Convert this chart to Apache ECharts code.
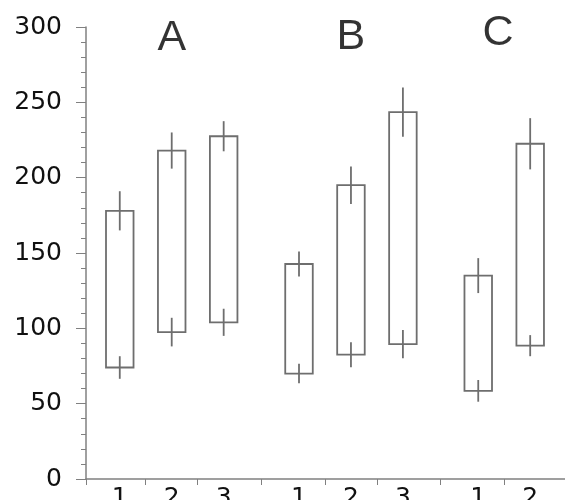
<!DOCTYPE html>
<html>
<head>
<meta charset="utf-8">
<script src="https://cdn.jsdelivr.net/npm/echarts@6/dist/echarts.min.js"></script>
<style>html,body{margin:0;padding:0;background:#fff;}#c{width:565px;height:500px;}</style>
</head>
<body>
<div id="c"></div>
<script>
// bar positions on the x scale and their tick labels
const positions = [1, 2, 3, 4.45, 5.45, 6.45, 7.9, 8.9];
const xLabels = ['1', '2', '3', '1', '2', '3', '1', '2'];
// box top / bottom values with their error half-widths
const highs = [178, 218, 227.5, 142.7, 195, 243.5, 135, 222.5];
const highErr = [13, 12, 10, 8.3, 12.4, 16.4, 11.6, 17];
const lows = [74, 97.5, 104, 70, 82.5, 89.5, 58.5, 88.5];
const lowErr = [7.5, 9.5, 9, 6.5, 8.3, 9.4, 7.2, 7];
// group labels
const groups = ['A', 'B', 'C'];
const groupX = [2, 5.45, 8.28];
const groupY = [292.5, 293.2, 295.8];

const X_MIN = 0.35, X_MAX = 9.57;
const tickVals = [X_MIN];
for (let i = 0; i < positions.length - 1; i++) tickVals.push((positions[i] + positions[i + 1]) / 2);

const LINE = '#6e6e6e';
const AXIS = '#808080';
const boxData = positions.map((p, i) => [p, lows[i], highs[i], lowErr[i], highErr[i]]);

const chart = echarts.init(document.getElementById('c'));
chart.setOption({
  backgroundColor: '#fff',
  animation: false,
  grid: { left: 86, right: 0, top: 27, bottom: 21, containLabel: false, outerBoundsMode: 'none' },
  xAxis: {
    type: 'value', min: X_MIN, max: X_MAX,
    splitLine: { show: false },
    axisLine: { show: true, lineStyle: { color: AXIS, width: 1.5 } },
    axisTick: { show: true, customValues: tickVals, length: 6, lineStyle: { color: AXIS, width: 1 } },
    axisLabel: {
      customValues: positions, margin: 7,
      fontFamily: 'DejaVu Sans', fontSize: 25, color: '#111',
      formatter: v => xLabels[positions.indexOf(v)]
    }
  },
  yAxis: {
    type: 'value', min: 0, max: 300, interval: 50,
    splitLine: { show: false },
    axisLine: { show: true, lineStyle: { color: AXIS, width: 1.5 } },
    axisTick: { show: true, length: 10, lineStyle: { color: AXIS, width: 1 } },
    minorTick: { show: true, splitNumber: 5, length: 5, lineStyle: { color: AXIS, width: 1 } },
    axisLabel: { margin: 24, fontFamily: 'DejaVu Sans', fontSize: 25, color: '#111' }
  },
  series: [
    {
      type: 'custom',
      data: boxData,
      renderItem: function (params, api) {
        const x = api.value(0), lo = api.value(1), hi = api.value(2), el = api.value(3), eh = api.value(4);
        const pLo = api.coord([x, lo]);
        const pHi = api.coord([x, hi]);
        const w = api.size([0.53, 0])[0];
        const eh1 = api.coord([x, hi + eh]), eh2 = api.coord([x, hi - eh]);
        const el1 = api.coord([x, lo + el]), el2 = api.coord([x, lo - el]);
        const st = { stroke: LINE, lineWidth: 1.8, fill: null };
        return {
          type: 'group',
          children: [
            { type: 'rect', shape: { x: pHi[0] - w / 2, y: pHi[1], width: w, height: pLo[1] - pHi[1] }, style: st },
            { type: 'line', shape: { x1: eh1[0], y1: eh1[1], x2: eh2[0], y2: eh2[1] }, style: st },
            { type: 'line', shape: { x1: el1[0], y1: el1[1], x2: el2[0], y2: el2[1] }, style: st }
          ]
        };
      }
    },
    {
      type: 'scatter',
      symbolSize: 1,
      itemStyle: { color: 'rgba(0,0,0,0)' },
      data: groups.map((g, i) => ({ name: g, value: [groupX[i], groupY[i]] })),
      label: {
        show: true, position: 'inside', formatter: '{b}',
        fontFamily: 'Liberation Sans', fontSize: 43, color: '#000', textBorderWidth: 0
      }
    }
  ]
});
</script>
</body>
</html>
